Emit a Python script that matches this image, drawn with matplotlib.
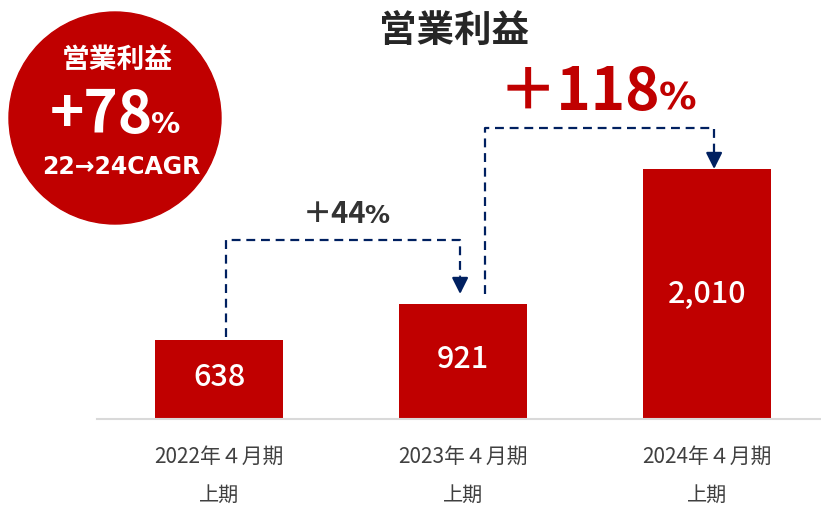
import matplotlib
import matplotlib.pyplot as plt
from matplotlib.patches import Circle

matplotlib.use("Agg")
plt.rcParams["font.family"] = ["Noto Sans CJK JP", "DejaVu Sans"]

# data
periods = ["2022年４月期", "2023年４月期", "2024年４月期"]
half_label = "上期"
profit = [638, 921, 2010]
value_labels = ["638", "921", "2,010"]
growth_labels = [("＋44", "%"), ("＋118", "%")]
cagr_title = "営業利益"
cagr_value = ("+78", "%")
cagr_note = "22→24CAGR"
title = "営業利益"

RED = "#C00000"
NAVY = "#002060"
DARK = "#333333"
LATIN = ["DejaVu Sans", "Noto Sans CJK JP"]

W, H = 821, 505
fig = plt.figure(figsize=(W / 100, H / 100), dpi=100)

# main axes: baseline at y=419 px, spans x 97..821 px
base_px = 419
ax = fig.add_axes([97 / W, (H - base_px) / H, 1 - 97 / W, base_px / H])
px_per_unit = 250 / 2010
ax.set_ylim(0, base_px / px_per_unit)
ax.set_xlim(-0.5, 2.467)

x = list(range(len(profit)))
ax.bar(x, profit, width=0.525, color=RED, zorder=2)
for xi, v, lab in zip(x, profit, value_labels):
    ax.text(xi, v * 0.52 if v < 1000 else v * 0.5, lab, ha="center", va="center",
            color="white", fontsize=22, fontweight="medium", zorder=3)

for s in ["top", "right", "left"]:
    ax.spines[s].set_visible(False)
ax.spines["bottom"].set_color("#D9D9D9")
ax.spines["bottom"].set_linewidth(1.5)
ax.set_yticks([])
ax.set_xticks(x)
ax.set_xticklabels(periods, fontsize=15, color="#404040")
ax.tick_params(axis="x", length=0, pad=19)
for xi in x:
    ax.text(xi, -(495 - base_px) / base_px, half_label, transform=ax.get_xaxis_transform(),
            ha="center", va="center", fontsize=14.5, color="#404040")


def px2val(py):
    return (base_px - py) / px_per_unit


dash = dict(color=NAVY, lw=1.6, linestyle=(0, (4, 2.6)), zorder=1)
arrow = dict(arrowstyle="-|>,head_length=0.7,head_width=0.35", color=NAVY,
             lw=1.6, mutation_scale=14, shrinkA=0, shrinkB=0)

# connector 2022 -> 2023
x0, x1 = 0.029, 0.988
y_top = px2val(240)
ax.plot([x0, x0, x1, x1], [px2val(337), y_top, y_top, px2val(276)], **dash)
ax.annotate("", xy=(x1, px2val(294)), xytext=(x1, px2val(277)), arrowprops=arrow)

# connector 2023 -> 2024
x0, x1 = 1.090, 2.029
y_top = px2val(128)
ax.plot([x0, x0, x1, x1], [px2val(294), y_top, y_top, px2val(152)], **dash)
ax.annotate("", xy=(x1, profit[2]), xytext=(x1, px2val(153)), arrowprops=arrow)

# overlay in pixel coordinates for annotations
ov = fig.add_axes([0, 0, 1, 1])
ov.set_xlim(0, W)
ov.set_ylim(H, 0)
ov.axis("off")

ov.text(454, 30, title, ha="center", va="center", fontsize=27,
        fontweight="bold", color="#262626")

ov.add_patch(Circle((115, 118), 106, color=RED))
ov.text(117, 60, cagr_title, ha="center", va="center", fontsize=20,
        fontweight="bold", color="white")
ov.text(153, 133, cagr_value[0], ha="right", va="baseline", fontsize=42,
        fontweight="bold", color="white")
ov.text(151, 133, cagr_value[1], ha="left", va="baseline", fontsize=21,
        fontweight="bold", color="white", family=LATIN)
ov.text(121, 167, cagr_note, ha="center", va="center", fontsize=17,
        fontweight="bold", color="white", family=LATIN)

ov.text(366, 223, growth_labels[0][0], ha="right", va="baseline", fontsize=21,
        fontweight="bold", color=DARK)
ov.text(364, 223, growth_labels[0][1], ha="left", va="baseline", fontsize=18,
        fontweight="bold", color=DARK, family=LATIN)

ov.text(660, 110, growth_labels[1][0], ha="right", va="baseline", fontsize=42,
        fontweight="bold", color=RED)
ov.text(659, 110, growth_labels[1][1], ha="left", va="baseline", fontsize=27,
        fontweight="bold", color=RED, family=LATIN)

fig.savefig("out.png", dpi=100)
